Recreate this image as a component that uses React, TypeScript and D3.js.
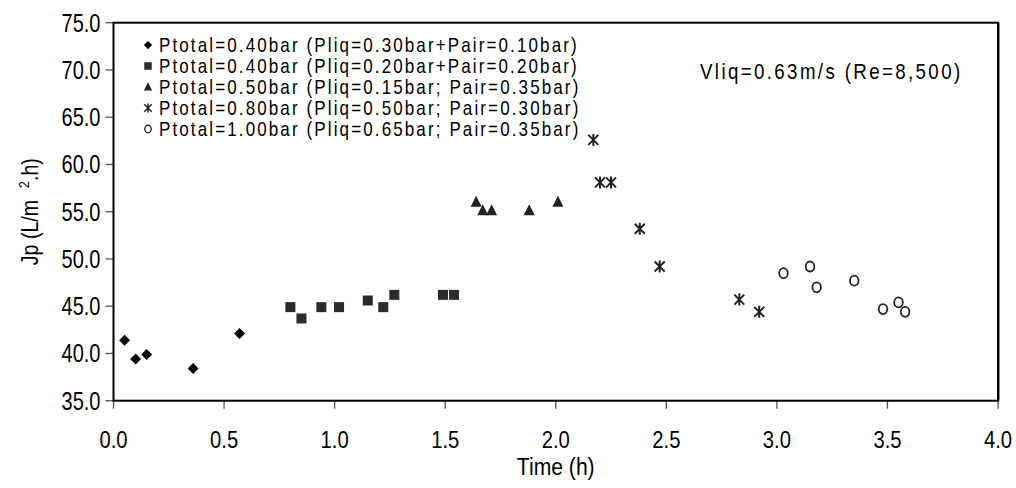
import React from "react";
import * as d3 from "d3";

const xTicks = [0, 0.5, 1, 1.5, 2, 2.5, 3, 3.5, 4];
const yTicks = [35, 40, 45, 50, 55, 60, 65, 70, 75];

const diamondT = [0.05, 0.1, 0.15, 0.36, 0.57];
const diamondV = [41.4, 39.4, 39.9, 38.4, 42.1];
const squareT = [0.8, 0.85, 0.94, 1.02, 1.15, 1.22, 1.27, 1.49, 1.54];
const squareV = [44.9, 43.7, 44.9, 44.9, 45.6, 44.9, 46.2, 46.2, 46.2];
const triangleT = [1.64, 1.67, 1.71, 1.88, 2.01];
const triangleV = [56.0, 55.1, 55.1, 55.1, 56.0];
const starT = [2.17, 2.2, 2.25, 2.38, 2.47, 2.83, 2.92];
const starV = [62.6, 58.1, 58.1, 53.2, 49.2, 45.7, 44.4];
const circleT = [3.03, 3.15, 3.18, 3.35, 3.48, 3.55, 3.58];
const circleV = [48.5, 49.2, 47.0, 47.7, 44.7, 45.4, 44.4];

const legendLabels = [
  "Ptotal=0.40bar (Pliq=0.30bar+Pair=0.10bar)",
  "Ptotal=0.40bar (Pliq=0.20bar+Pair=0.20bar)",
  "Ptotal=0.50bar (Pliq=0.15bar; Pair=0.35bar)",
  "Ptotal=0.80bar (Pliq=0.50bar; Pair=0.30bar)",
  "Ptotal=1.00bar (Pliq=0.65bar; Pair=0.35bar)",
];
const annotation = "Vliq=0.63m/s (Re=8,500)";
const xTitle = "Time (h)";

const FONT = "'Liberation Sans', Arial, sans-serif";

type Kind = "diamond" | "square" | "triangle" | "star" | "circle";

function Marker({ kind, x, y, s = 1 }: { kind: Kind; x: number; y: number; s?: number }) {
  const t = `translate(${x},${y}) scale(${s})`;
  if (kind === "diamond")
    return <path transform={t} d="M0,-5.5L5.5,0L0,5.5L-5.5,0Z" fill="#000" />;
  if (kind === "square")
    return <rect transform={t} x={-5} y={-5} width={10} height={10} fill="#2b2b2b" />;
  if (kind === "triangle")
    return <path transform={t} d="M0,-6.5L5.5,4.5L-5.5,4.5Z" fill="#222" />;
  if (kind === "star")
    return (
      <path
        transform={t}
        d="M0,-6L0,6M-5,-5L5,5M5,-5L-5,5"
        stroke="#222"
        strokeWidth={2}
        fill="none"
      />
    );
  return <ellipse transform={t} cx={0} cy={0} rx={4.3} ry={5} fill="none" stroke="#222" strokeWidth={1.8} />;
}

export default function App() {
  const W = 1016;
  const H = 488;
  const x = d3.scaleLinear().domain([0, 4]).range([113.5, 998]);
  const y = d3.scaleLinear().domain([35, 75]).range([400.7, 22.7]);

  const series: { kind: Kind; t: number[]; v: number[] }[] = [
    { kind: "diamond", t: diamondT, v: diamondV },
    { kind: "square", t: squareT, v: squareV },
    { kind: "triangle", t: triangleT, v: triangleV },
    { kind: "star", t: starT, v: starV },
    { kind: "circle", t: circleT, v: circleV },
  ];

  const [x0, x1] = x.range();
  const [y0, y1] = y.range();

  return (
    <svg width={W} height={H} style={{ position: "absolute", left: 0, top: 0, background: "#fff" }}>
      <rect x={0} y={0} width={W} height={H} fill="#fff" />
      {yTicks.map((v) => (
        <line key={"yt" + v} x1={x0 - 8} x2={x0} y1={y(v)} y2={y(v)} stroke="#555" strokeWidth={1.3} />
      ))}
      {xTicks.map((v) => (
        <line key={"xt" + v} x1={x(v)} x2={x(v)} y1={y0} y2={y0 + 8} stroke="#555" strokeWidth={1.3} />
      ))}
      <rect x={x0} y={y1} width={x1 - x0} height={y0 - y1} fill="none" stroke="#000" strokeWidth={2} />
      <line x1={x1 + 1.5} x2={x1 + 1.5} y1={y1} y2={y0} stroke="#888" strokeWidth={1} />
      {yTicks.map((v) => (
        <text
          key={"yl" + v}
          transform={`translate(${x0 - 13},${y(v) + 9}) scale(0.8,1)`}
          textAnchor="end"
          fontFamily={FONT}
          fontSize={25}
          fill="#000"
        >
          {v.toFixed(1)}
        </text>
      ))}
      {xTicks.map((v) => (
        <text
          key={"xl" + v}
          transform={`translate(${x(v)},${y0 + 47}) scale(0.88,1)`}
          textAnchor="middle"
          fontFamily={FONT}
          fontSize={23}
          fill="#000"
        >
          {v.toFixed(1)}
        </text>
      ))}
      <text
        transform={`translate(${(x0 + x1) / 2},${y0 + 74}) scale(0.88,1)`}
        textAnchor="middle"
        fontFamily={FONT}
        fontSize={24}
      >
        {xTitle}
      </text>
      <text
        transform={`translate(38,${(y0 + y1) / 2}) rotate(-90) scale(0.85,1)`}
        textAnchor="middle"
        fontFamily={FONT}
        fontSize={23}
      >
        <tspan>Jp (L/m</tspan>
        <tspan dx={14} dy={-9} fontSize={15}>2</tspan>
        <tspan dy={9}>.h)</tspan>
      </text>
      {series.map((s) =>
        s.t.map((t, i) => <Marker key={s.kind + i} kind={s.kind} x={x(t)} y={y(s.v[i])} />)
      )}
      {legendLabels.map((lab, i) => {
        const ly = 45 + i * 21;
        return (
          <g key={"lg" + i}>
            <Marker kind={series[i].kind} x={148} y={ly} s={0.75} />
            <text
              transform={`translate(159,${ly + 7}) scale(0.85,1)`}
              fontFamily={FONT}
              fontSize={20}
              letterSpacing={2.5}
            >
              {lab}
            </text>
          </g>
        );
      })}
      <text
        transform={`translate(700,${79}) scale(0.85,1)`}
        fontFamily={FONT}
        fontSize={22}
        letterSpacing={2.8}
      >
        {annotation}
      </text>
    </svg>
  );
}
